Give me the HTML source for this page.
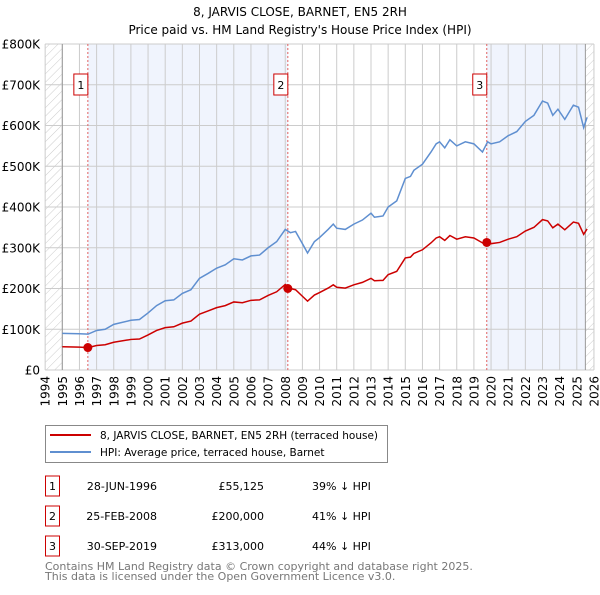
<!DOCTYPE html>
<html><head><meta charset="utf-8"><style>
body{margin:0;background:#fff;font-family:"Liberation Sans","DejaVu Sans",sans-serif}
svg text{font-family:"DejaVu Sans","Liberation Sans",sans-serif}
</style></head><body>
<svg id="c" width="600" height="590" xmlns="http://www.w3.org/2000/svg">
<defs><pattern id="h" width="6" height="6" patternUnits="userSpaceOnUse" patternTransform="rotate(45)"><line x1="0" y1="0" x2="0" y2="6" stroke="#ccc" stroke-width="1"/></pattern></defs>
<text x="300" y="16" text-anchor="middle" font-size="12">8, JARVIS CLOSE, BARNET, EN5 2RH</text>
<text x="300" y="34" text-anchor="middle" font-size="12">Price paid vs. HM Land Registry's House Price Index (HPI)</text>
<g id="plot"></g>
<g>
<rect x="45.5" y="425.5" width="342" height="37" fill="#fff" stroke="#888"/>
<line x1="50" y1="435" x2="91" y2="435" stroke="#cc0000" stroke-width="2"/>
<text x="100" y="439" font-size="10.5">8, JARVIS CLOSE, BARNET, EN5 2RH (terraced house)</text>
<line x1="50" y1="452" x2="91" y2="452" stroke="#5f8fd0" stroke-width="2"/>
<text x="100" y="456" font-size="10.5">HPI: Average price, terraced house, Barnet</text>
</g>
<g id="tbl" font-size="11"></g>
<text x="45" y="570" font-size="11" fill="#777">Contains HM Land Registry data © Crown copyright and database right 2025.</text>
<text x="45" y="580" font-size="11" fill="#777">This data is licensed under the Open Government Licence v3.0.</text>
</svg>
<script>
const hpiYears=[1995,1996,1996.5,1997,1997.5,1998,1999,1999.5,2000,2000.5,2001,2001.5,2002,2002.5,2003,2003.5,2004,2004.5,2005,2005.5,2006,2006.5,2007,2007.5,2008,2008.3,2008.6,2009,2009.3,2009.7,2010,2010.5,2010.8,2011,2011.5,2012,2012.5,2013,2013.2,2013.7,2014,2014.5,2015,2015.3,2015.5,2016,2016.5,2016.8,2017,2017.3,2017.6,2018,2018.5,2019,2019.5,2019.8,2020,2020.5,2021,2021.5,2022,2022.5,2023,2023.3,2023.6,2023.9,2024.3,2024.8,2025.1,2025.4,2025.6];
const hpiValues=[90,89,88,97,100,112,122,124,140,158,170,172,188,197,225,237,250,258,273,270,280,282,300,315,345,337,340,310,287,315,325,345,358,348,345,358,368,385,375,378,400,415,470,475,490,505,535,555,560,545,565,550,560,555,535,560,555,560,575,585,610,625,660,655,625,640,615,650,645,595,620];
const propValues=[57,56,55,60,62,68,75,76,86,97,104,106,115,120,137,145,153,158,167,165,171,172,183,192,210,200,197,181,169,184,190,201,209,203,201,209,215,225,219,220,234,242,275,277,286,295,312,324,327,318,330,321,327,324,312,316,310,313,321,327,341,350,369,366,349,358,344,363,360,333,346];
const saleYears=[1996.49,2008.15,2019.75];
const salePrices=[55.125,200,313];
const saleDates=["28-JUN-1996","25-FEB-2008","30-SEP-2019"];
const saleLabels=["£55,125","£200,000","£313,000"];
const saleDiffs=["39% ↓ HPI","41% ↓ HPI","44% ↓ HPI"];
const yTicks=[0,100,200,300,400,500,600,700,800];
const yTickLabels=["£0","£100K","£200K","£300K","£400K","£500K","£600K","£700K","£800K"];
const xTicks=[1994,1995,1996,1997,1998,1999,2000,2001,2002,2003,2004,2005,2006,2007,2008,2009,2010,2011,2012,2013,2014,2015,2016,2017,2018,2019,2020,2021,2022,2023,2024,2025,2026];

const NS="http://www.w3.org/2000/svg";
const X=y=>45.15+17.15*(y-1994);
const Y=v=>370-v*0.4075;
const plot=document.getElementById('plot');
function mk(tag,at,parent){const e=document.createElementNS(NS,tag);for(const k in at)e.setAttribute(k,at[k]);(parent||plot).appendChild(e);return e;}
const L=X(1994),R=X(2026),T=Y(800),B=Y(0);
let e;
e=mk('rect',{x:X(saleYears[0]),y:T,width:X(saleYears[1])-X(saleYears[0]),height:B-T,fill:'#f0f4fd'});


e=mk('rect',{x:X(saleYears[2]),y:T,width:X(2025.5)-X(saleYears[2]),height:B-T,fill:'#f0f4fd'});


e=mk('rect',{x:L,y:T,width:X(1995)-L,height:B-T,fill:'url(#h)'});


e=mk('rect',{x:X(2025.5),y:T,width:R-X(2025.5),height:B-T,fill:'url(#h)'});


xTicks.forEach(t=>{
 e=mk('line',{x1:X(t),x2:X(t),y1:T,y2:B,stroke:'#ccc','stroke-width':1});
 
 
 e=mk('text',{x:0,y:0,'font-size':12,'text-anchor':'end',transform:`translate(${X(t)+4.5},376) rotate(-90)`});
 e.textContent=t;
 
 
});
yTicks.forEach((t,i)=>{
 e=mk('line',{x1:L,x2:R,y1:Y(t),y2:Y(t),stroke:'#ccc','stroke-width':1});
 
 
 e=mk('text',{x:40,y:Y(t)+4.5,'font-size':12,'text-anchor':'end'});
 e.textContent=yTickLabels[i];
 
 
});
[1995,2025.5].forEach(t=>{e=mk('line',{x1:X(t),x2:X(t),y1:T,y2:B,stroke:'#999','stroke-width':1});
 
 });
saleYears.forEach((s,i)=>{
 e=mk('line',{x1:X(s),x2:X(s),y1:T,y2:B,stroke:'#e06060','stroke-width':1,'stroke-dasharray':'2,2'});
 
 
});
e=mk('polyline',{points:hpiYears.map((y,i)=>X(y)+','+Y(hpiValues[i])).join(' '),fill:'none',stroke:'#5f8fd0','stroke-width':1.5});


e=mk('polyline',{points:hpiYears.map((y,i)=>X(y)+','+Y(propValues[i])).join(' '),fill:'none',stroke:'#cc0000','stroke-width':1.5});


saleYears.forEach((s,i)=>{
 e=mk('circle',{cx:X(s),cy:Y(salePrices[i]),r:4.5,fill:'#cc0000'});
 
 
 e=mk('rect',{x:X(s)-14,y:74,width:14,height:21,fill:'#fff',stroke:'#cc0000'});
 
 
 e=mk('text',{x:X(s)-7,y:89,'font-size':11,'text-anchor':'middle'});
 e.textContent=i+1;
 
 
});
const tbl=document.getElementById('tbl');
saleDates.forEach((d,i)=>{
 const yy=476+i*30;
 e=mk('rect',{x:45.5,y:yy,width:14,height:20,fill:'#fff',stroke:'#cc0000'},tbl);
 
 
 e=mk('text',{x:52.5,y:yy+14},tbl);e.setAttribute('text-anchor','middle');e.textContent=i+1;
 
 
 e=mk('text',{x:157,y:yy+14,'text-anchor':'end'},tbl);e.textContent=d;
 
 
 e=mk('text',{x:264,y:yy+14,'text-anchor':'end'},tbl);e.textContent=saleLabels[i];
 
 
 e=mk('text',{x:312,y:yy+14},tbl);e.textContent=saleDiffs[i];
 
 
});
</script>
</body></html>
